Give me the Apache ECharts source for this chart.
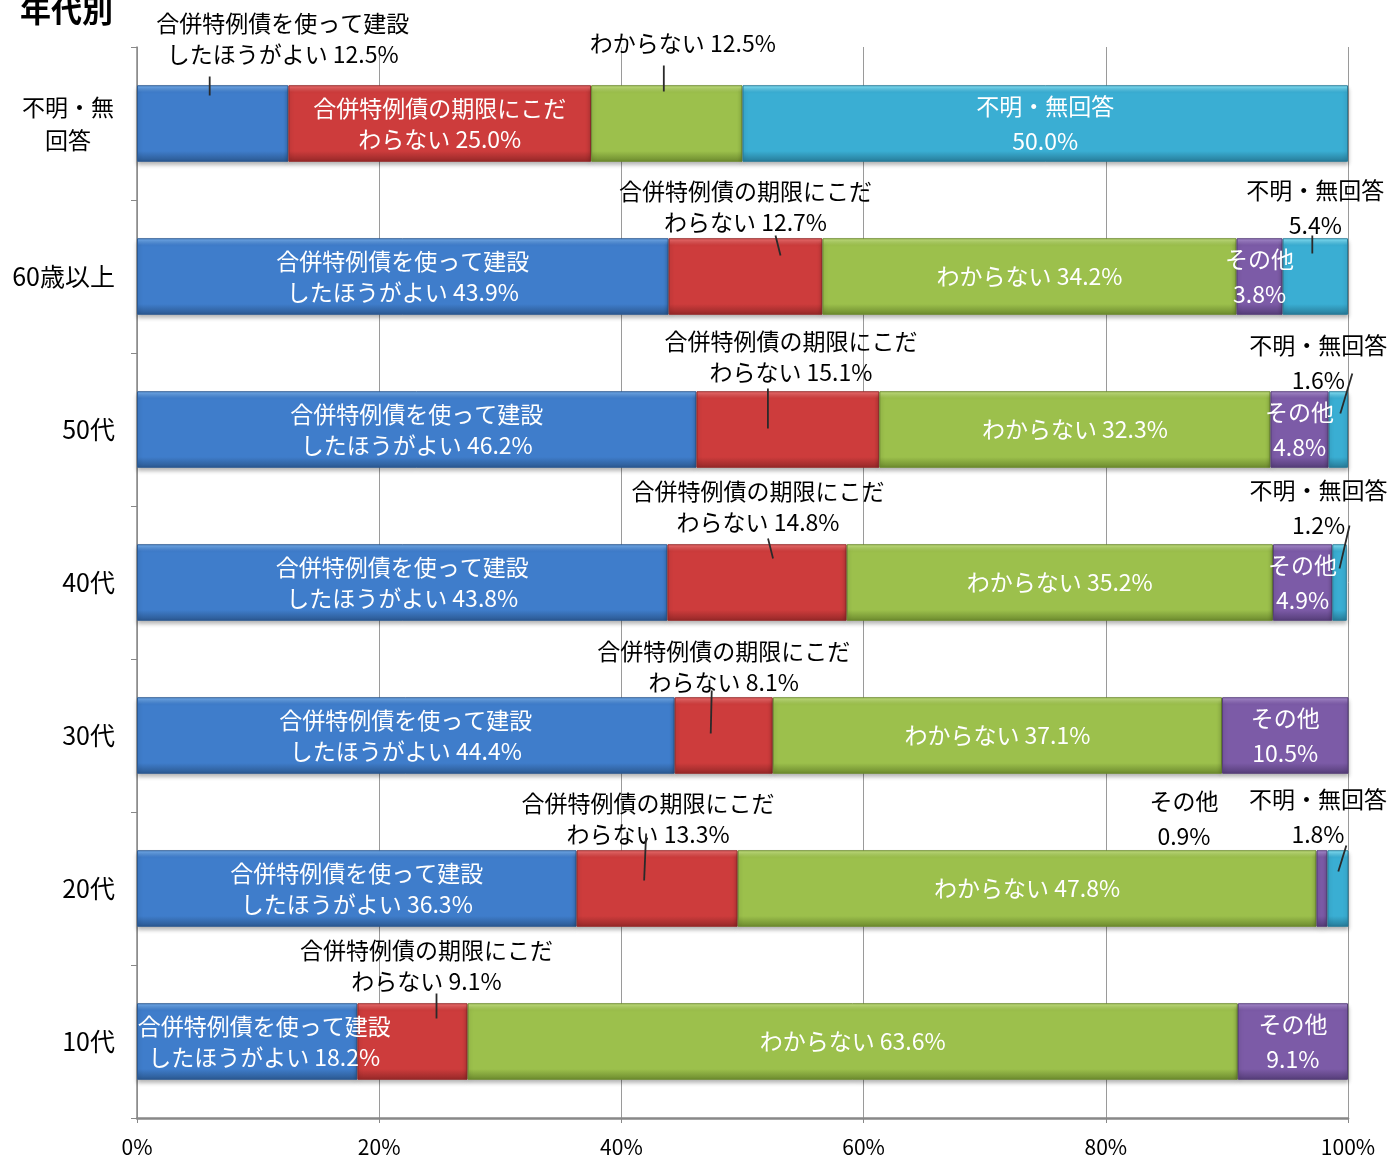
<!DOCTYPE html>
<html lang="ja">
<head>
<meta charset="utf-8">
<title>年代別</title>
<script src="https://cdn.jsdelivr.net/npm/echarts@6/dist/echarts.min.js"></script>
<style>
  html, body { margin: 0; padding: 0; background: #fff; }
  #chart { width: 1391px; height: 1160px; }
</style>
</head>
<body>
<div id="chart"></div>
<script>
// Age groups, top to bottom
const categories = ['不明・無回答', '60歳以上', '50代', '40代', '30代', '20代', '10代'];

// Answer options (stack order, left to right)
const seriesNames = [
  '合併特例債を使って建設したほうがよい',
  '合併特例債の期限にこだわらない',
  'わからない',
  'その他',
  '不明・無回答'
];

// Shares (%) per age group, same order as categories
const buildNow   = [12.5, 43.9, 46.2, 43.8, 44.4, 36.3, 18.2];
const noDeadline = [25.0, 12.7, 15.1, 14.8,  8.1, 13.3,  9.1];
const unsure     = [12.5, 34.2, 32.3, 35.2, 37.1, 47.8, 63.6];
const other      = [ 0.0,  3.8,  4.8,  4.9, 10.5,  0.9,  9.1];
const noAnswer   = [50.0,  5.4,  1.6,  1.2,  0.0,  1.8,  0.0];

const seriesValues = [buildNow, noDeadline, unsure, other, noAnswer];

// X axis tick labels (percent)
const xTickStep = 20;
const xMax = 100;

// How each option name is broken across label lines; the value goes on the last line
const nameLines = [
  ['合併特例債を使って建設', 'したほうがよい'],
  ['合併特例債の期限にこだ', 'わらない'],
  ['わからない'],
  ['その他', ''],
  ['不明・無回答', '']
];

// Bar colours: [top highlight, body, bottom shade]
const palette = [
  ['#78b1f0', '#3f7dcb', '#2b5890'],
  ['#f27373', '#cd3c3c', '#952828'],
  ['#c8e585', '#9cc04c', '#6c8a2e'],
  ['#ad90d4', '#7c5ba7', '#553d78'],
  ['#8be8fd', '#3aaed3', '#277b98']
];

// Labels that sit away from their bar: key "series-category"
// offset = label shift in px, line = leader endpoints relative to bar centre
const callouts = {
  '0-0': { offset: [70, -85],  line: [-3, -47, -3, -28] },
  '2-0': { offset: [16, -80],  line: [-3, -58, -3, -32] },
  '1-1': { offset: [0, -70],   line: [30, -41, 35, -21] },
  '4-1': { offset: [0, -69],   line: [-3, -41, -3, -23] },
  '1-2': { offset: [3, -73],   line: [-20, -41, -20, -1] },
  '4-2': { offset: [-20, -67], line: [14, -56, 2, -16] },
  '1-3': { offset: [1, -76],   line: [11, -44, 16, -24] },
  '4-3': { offset: [-21, -75], line: [10, -57, 0, -14] },
  '1-4': { offset: [0, -69],   line: [-12, -45, -13, -2] },
  '1-5': { offset: [-9, -70],  line: [-11, -55, -13, -8] },
  '3-5': { offset: [-138, -70] },
  '4-5': { offset: [-20, -72], line: [8, -43, 0, -17] },
  '1-6': { offset: [14, -76],  line: [24, -48, 24, -23] }
};
// Inside labels nudged sideways
const insideShift = {
  '0-6': [17, 0]
};

const labelFont = "'Liberation Sans Narrow', 'Noto Sans CJK JP', sans-serif";
const cjkFont = "'Noto Sans CJK JP', sans-serif";

function labelText(params) {
  const lines = nameLines[params.seriesIndex];
  const last = lines[lines.length - 1];
  const valueText = params.value.toFixed(1) + '%';
  return lines.slice(0, -1).concat([(last ? last + ' ' : '') + valueText]).join('\n');
}

const series = seriesValues.map(function (values, s) {
  const c = palette[s];
  return {
    name: seriesNames[s],
    type: 'bar',
    stack: 'total',
    barWidth: '50%',
    itemStyle: {
      color: new echarts.graphic.LinearGradient(0, 0, 0, 1, [
        { offset: 0, color: c[0] },
        { offset: 0.09, color: c[1] },
        { offset: 0.86, color: c[1] },
        { offset: 1, color: c[2] }
      ]),
      borderColor: c[2],
      borderWidth: 1,
      shadowColor: 'rgba(0,0,0,0.3)',
      shadowBlur: 4,
      shadowOffsetY: 3
    },
    label: {
      show: true,
      position: 'inside',
      color: '#fff',
      fontSize: 23,
      fontFamily: labelFont,
      lineHeight: s >= 3 ? 35 : 31,
      formatter: labelText
    },
    data: values.map(function (v, ci) {
      if (!v) return { value: null, label: { show: false } };
      const key = s + '-' + ci;
      const item = { value: v };
      if (callouts[key]) {
        item.label = { offset: callouts[key].offset, color: '#000' };
      } else if (insideShift[key]) {
        item.label = { offset: insideShift[key] };
      }
      return item;
    })
  };
});

// Leader lines for the callout labels, anchored at each bar's centre
const leaderKeys = Object.keys(callouts).filter(function (k) { return callouts[k].line; });
const leaderData = leaderKeys.map(function (k) {
  const parts = k.split('-').map(Number);
  const s = parts[0], ci = parts[1];
  let start = 0;
  for (let i = 0; i < s; i++) start += seriesValues[i][ci];
  return [start + seriesValues[s][ci] / 2, ci];
});

series.push({
  type: 'custom',
  silent: true,
  z: 10,
  encode: { x: 0, y: 1 },
  data: leaderData,
  renderItem: function (params, api) {
    const p = api.coord([api.value(0), api.value(1)]);
    const L = callouts[leaderKeys[params.dataIndex]].line;
    return {
      type: 'line',
      shape: { x1: p[0] + L[0], y1: p[1] + L[1], x2: p[0] + L[2], y2: p[1] + L[3] },
      style: { stroke: '#2a2a2a', lineWidth: 1.8 }
    };
  }
});

const chart = echarts.init(document.getElementById('chart'), null, { renderer: 'canvas' });
chart.setOption({
  animation: false,
  backgroundColor: '#fff',
  title: {
    text: '年代別',
    left: 15,
    top: -10,
    textStyle: { fontSize: 31, fontWeight: 'bold', fontFamily: cjkFont, color: '#000' }
  },
  grid: { left: 137, right: 43, top: 47, bottom: 42, containLabel: false },
  xAxis: {
    type: 'value',
    min: 0,
    max: xMax,
    interval: xTickStep,
    axisLine: { show: true, lineStyle: { color: '#888', width: 2.5 } },
    axisTick: { show: true, length: 5, lineStyle: { color: '#888' } },
    splitLine: { show: true, lineStyle: { color: '#9a9a9a', width: 1 } },
    axisLabel: {
      formatter: '{value}%',
      margin: 19,
      color: '#000',
      fontSize: 21,
      fontFamily: labelFont
    }
  },
  yAxis: {
    type: 'category',
    inverse: true,
    data: categories,
    axisLine: { show: true, lineStyle: { color: '#888', width: 1.5 } },
    axisTick: { show: true, length: 6, lineStyle: { color: '#888' } },
    axisLabel: {
      margin: 22,
      color: '#000',
      fontSize: 25,
      fontFamily: cjkFont,
      formatter: function (v) {
        return v === '不明・無回答' ? '{c|不明・無}\n{c|回答}' : v;
      },
      rich: {
        c: { width: 94, align: 'center', fontSize: 23, lineHeight: 33, fontFamily: cjkFont, color: '#000' }
      }
    }
  },
  series: series
});
</script>
</body>
</html>
